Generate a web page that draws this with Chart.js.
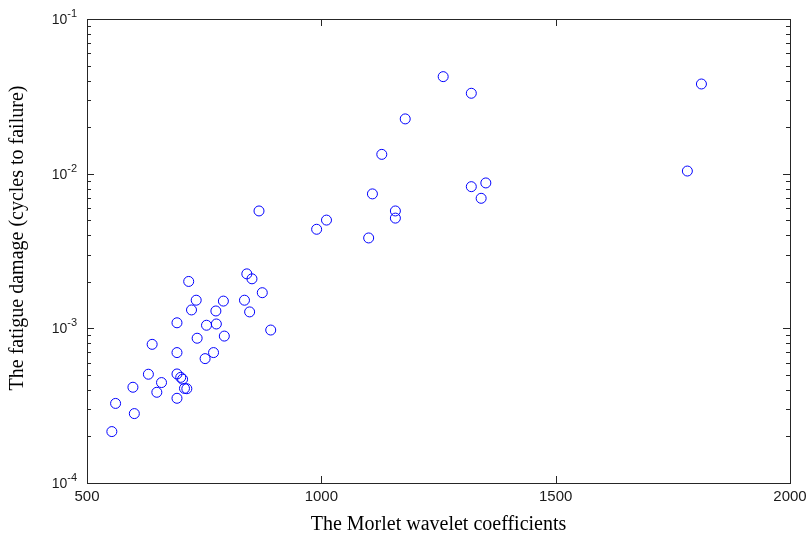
<!DOCTYPE html>
<html>
<head>
<meta charset="utf-8">
<script src="https://cdn.jsdelivr.net/npm/chart.js@4/dist/chart.umd.min.js"></script>
<style>
  html, body { margin: 0; padding: 0; background: #fff; }
  canvas { display: block; }
</style>
</head>
<body>
<canvas id="chart" width="809" height="537"></canvas>
<script>
'use strict';

// ── Data ────────────────────────────────────────────────────
const waveletCoeffs = [
  553, 561, 601, 598, 631, 639, 649, 659, 692, 692, 692, 692, 700, 704, 708, 713,
  717, 723, 733, 735, 752, 755, 770, 775, 776, 791, 793, 836, 841, 847, 852, 874,
  892, 867, 990, 1011, 1101, 1109, 1129, 1158, 1158, 1179, 1260, 1320, 1320, 1341,
  1351, 1781, 1811
];
const fatigueDamage = [
  2.15e-4, 3.27e-4, 2.81e-4, 4.16e-4, 5.05e-4, 7.88e-4, 3.86e-4, 4.46e-4, 3.53e-4, 5.07e-4,
  6.97e-4, 1.086e-3, 4.82e-4, 4.69e-4, 4.09e-4, 4.07e-4, 2.01e-3, 1.315e-3, 1.52e-3, 8.63e-4,
  6.37e-4, 1.047e-3, 6.97e-4, 1.295e-3, 1.067e-3, 1.50e-3, 8.91e-4, 1.52e-3, 2.25e-3, 1.277e-3,
  2.09e-3, 1.70e-3, 9.75e-4, 5.74e-3, 4.37e-3, 5.01e-3, 3.84e-3, 7.40e-3, 1.333e-2, 5.74e-3,
  5.16e-3, 2.26e-2, 4.24e-2, 3.31e-2, 8.24e-3, 6.93e-3, 8.71e-3, 1.04e-2, 3.80e-2
];
const xTicks = [500, 1000, 1500, 2000];
const yDecades = [-4, -3, -2, -1];
const xTitle = 'The Morlet wavelet coefficients';
const yTitle = 'The fatigue damage (cycles to failure)';

// ── MATLAB-like box, inward ticks, labels ──────────────────
const matlabAxes = {
  id: 'matlabAxes',
  afterDraw(chart) {
    const { ctx, chartArea: a, scales: { x, y } } = chart;
    ctx.save();
    ctx.strokeStyle = '#262626';
    ctx.lineWidth = 1;
    ctx.strokeRect(Math.round(a.left) + 0.5, Math.round(a.top) + 0.5,
      Math.round(a.right - a.left), Math.round(a.bottom - a.top));

    ctx.beginPath();
    // x ticks (bottom & top)
    xTicks.forEach(v => {
      const px = Math.round(x.getPixelForValue(v)) + 0.5;
      ctx.moveTo(px, a.bottom); ctx.lineTo(px, a.bottom - 7);
      ctx.moveTo(px, a.top);    ctx.lineTo(px, a.top + 7);
    });
    // y ticks (left & right), major + minor
    yDecades.forEach(d => {
      for (let m = 1; m <= 9; m++) {
        if (d === -1 && m > 1) break;
        const py = Math.round(y.getPixelForValue(m * Math.pow(10, d))) + 0.5;
        const len = m === 1 ? 7 : 4;
        ctx.moveTo(a.left, py);  ctx.lineTo(a.left + len, py);
        ctx.moveTo(a.right, py); ctx.lineTo(a.right - len, py);
      }
    });
    ctx.stroke();

    // tick labels
    ctx.fillStyle = '#1a1a1a';
    ctx.font = '15px "Liberation Sans", Arial, sans-serif';
    ctx.textAlign = 'center';
    ctx.textBaseline = 'alphabetic';
    xTicks.forEach(v => ctx.fillText(String(v), x.getPixelForValue(v), a.bottom + 18));

    yDecades.forEach(d => {
      const py = y.getPixelForValue(Math.pow(10, d));
      const exp = String(d);
      ctx.font = '11px "Liberation Sans", Arial, sans-serif';
      const ew = ctx.measureText(exp).width;
      ctx.textAlign = 'right';
      ctx.fillText(exp, a.left - 10, py - 2);
      ctx.font = '14px "Liberation Sans", Arial, sans-serif';
      ctx.fillText('10', a.left - 10 - ew, py + 5);
    });

    // axis titles
    ctx.fillStyle = '#000';
    ctx.font = '20px "Liberation Serif", "Times New Roman", serif';
    ctx.textAlign = 'center';
    ctx.textBaseline = 'alphabetic';
    ctx.fillText(xTitle, (a.left + a.right) / 2, 530);
    ctx.textBaseline = 'middle';
    ctx.translate(18, (a.top + a.bottom) / 2 - 13);
    ctx.rotate(-Math.PI / 2);
    ctx.fillText(yTitle, 0, 0);
    ctx.restore();
  }
};

new Chart(document.getElementById('chart').getContext('2d'), {
  type: 'scatter',
  data: {
    datasets: [{
      data: waveletCoeffs.map((v, i) => ({ x: v, y: fatigueDamage[i] })),
      pointStyle: 'circle',
      pointRadius: 5,
      pointHoverRadius: 5,
      borderColor: '#0000ff',
      backgroundColor: 'rgba(0,0,0,0)',
      borderWidth: 1,
      clip: false
    }]
  },
  options: {
    responsive: false,
    animation: false,
    events: [],
    layout: { padding: { left: 87, top: 19, right: 19, bottom: 54 } },
    plugins: { legend: { display: false }, tooltip: { enabled: false } },
    scales: {
      x: { type: 'linear', min: 500, max: 2000, display: false },
      y: { type: 'logarithmic', min: 1e-4, max: 1e-1, display: false }
    }
  },
  plugins: [matlabAxes]
});
</script>
</body>
</html>
